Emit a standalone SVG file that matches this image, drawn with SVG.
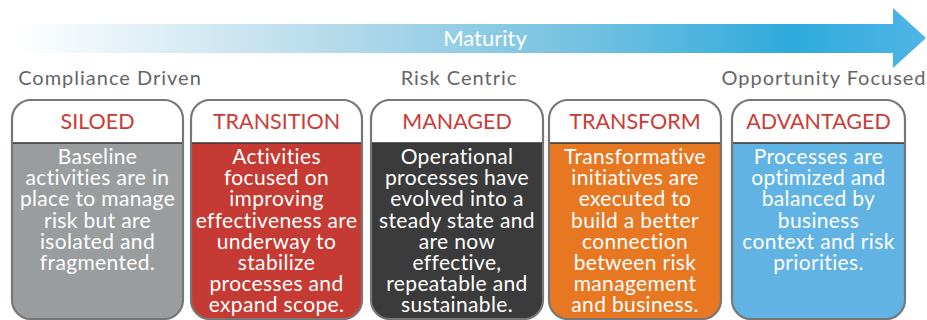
<svg xmlns="http://www.w3.org/2000/svg" width="927" height="320" viewBox="0 0 927 320">
<defs>
<linearGradient id="arrowGrad" x1="15" y1="0" x2="927" y2="0" gradientUnits="userSpaceOnUse">
<stop offset="0" stop-color="#ffffff"/>
<stop offset="0.35" stop-color="#b5daea"/>
<stop offset="0.65" stop-color="#6cbfe0"/>
<stop offset="0.85" stop-color="#2eaadc"/>
<stop offset="1" stop-color="#4fb5e6"/>
</linearGradient>
<style>
.stage{font-family:Lato,"Open Sans","Liberation Sans",sans-serif;font-size:20px;letter-spacing:1px;fill:#666666;text-anchor:middle}
.head{font-family:Lato,"Open Sans","Liberation Sans",sans-serif;font-size:21.5px;fill:#cc3b36;text-anchor:middle}
.body{font-family:Lato,"Open Sans","Liberation Sans",sans-serif;font-size:21px;letter-spacing:0.35px;fill:#ffffff;text-anchor:middle}
.frame{fill:none;stroke:#777777;stroke-width:2.2}
.hdr{fill:#ffffff}
.div{stroke:#333333;stroke-width:1.5}
</style>
</defs>
<g id="maturity-arrow">
<path d="M15,24 H893 V8 L926,38 L893,68 V53 H15 Z" fill="url(#arrowGrad)"/>
<text x="485" y="46" font-family="Lato,'Open Sans','Liberation Sans',sans-serif" font-size="22" fill="#ffffff" text-anchor="middle">Maturity</text>
</g>
<g id="stage-labels">
<text class="stage" x="110" y="85">Compliance Driven</text>
<text class="stage" x="459" y="85">Risk Centric</text>
<text class="stage" x="824" y="85">Opportunity Focused</text>
</g>
<g id="connectors"></g>
<g id="siloed">
<rect x="12" y="100" width="171" height="219" rx="19" fill="#9a9d9e"/>
<path class="hdr" d="M12,143 V119 A19,19 0 0 1 31,100 H164 A19,19 0 0 1 183,119 V143 Z"/>
<line class="div" x1="12" y1="143" x2="183" y2="143"/>
<rect class="frame" x="12" y="100" width="171" height="219" rx="19"/>
<text class="head" x="97.5" y="129">SILOED</text>
<text class="body" x="97.5" y="164">Baseline</text>
<text class="body" x="97.5" y="185.2">activities are in</text>
<text class="body" x="97.5" y="206.4">place to manage</text>
<text class="body" x="97.5" y="227.6">risk but are</text>
<text class="body" x="97.5" y="248.8">isolated and</text>
<text class="body" x="97.5" y="270">fragmented.</text>
</g>
<g id="transition">
<rect x="191" y="100" width="171" height="219" rx="19" fill="#c53a32"/>
<path class="hdr" d="M191,143 V119 A19,19 0 0 1 210,100 H343 A19,19 0 0 1 362,119 V143 Z"/>
<line class="div" x1="191" y1="143" x2="362" y2="143"/>
<rect class="frame" x="191" y="100" width="171" height="219" rx="19"/>
<text class="head" x="276.5" y="129">TRANSITION</text>
<text class="body" x="276.5" y="164">Activities</text>
<text class="body" x="276.5" y="185.2">focused on</text>
<text class="body" x="276.5" y="206.4">improving</text>
<text class="body" x="276.5" y="227.6">effectiveness are</text>
<text class="body" x="276.5" y="248.8">underway to</text>
<text class="body" x="276.5" y="270">stabilize</text>
<text class="body" x="276.5" y="291.2">processes and</text>
<text class="body" x="276.5" y="312.4">expand scope.</text>
</g>
<g id="managed">
<rect x="371" y="100" width="172" height="219" rx="19" fill="#3b3b3b"/>
<path class="hdr" d="M371,143 V119 A19,19 0 0 1 390,100 H524 A19,19 0 0 1 543,119 V143 Z"/>
<line class="div" x1="371" y1="143" x2="543" y2="143"/>
<rect class="frame" x="371" y="100" width="172" height="219" rx="19"/>
<text class="head" x="457" y="129">MANAGED</text>
<text class="body" x="457" y="164">Operational</text>
<text class="body" x="457" y="185.2">processes have</text>
<text class="body" x="457" y="206.4">evolved into a</text>
<text class="body" x="457" y="227.6">steady state and</text>
<text class="body" x="457" y="248.8">are now</text>
<text class="body" x="457" y="270">effective,</text>
<text class="body" x="457" y="291.2">repeatable and</text>
<text class="body" x="457" y="312.4">sustainable.</text>
</g>
<g id="transform">
<rect x="549" y="100" width="172" height="219" rx="19" fill="#e87722"/>
<path class="hdr" d="M549,143 V119 A19,19 0 0 1 568,100 H702 A19,19 0 0 1 721,119 V143 Z"/>
<line class="div" x1="549" y1="143" x2="721" y2="143"/>
<rect class="frame" x="549" y="100" width="172" height="219" rx="19"/>
<text class="head" x="635" y="129">TRANSFORM</text>
<text class="body" x="635" y="164">Transformative</text>
<text class="body" x="635" y="185.2">initiatives are</text>
<text class="body" x="635" y="206.4">executed to</text>
<text class="body" x="635" y="227.6">build a better</text>
<text class="body" x="635" y="248.8">connection</text>
<text class="body" x="635" y="270">between risk</text>
<text class="body" x="635" y="291.2">management</text>
<text class="body" x="635" y="312.4">and business.</text>
</g>
<g id="advantaged">
<rect x="732" y="100" width="173" height="219" rx="19" fill="#60b3e3"/>
<path class="hdr" d="M732,143 V119 A19,19 0 0 1 751,100 H886 A19,19 0 0 1 905,119 V143 Z"/>
<line class="div" x1="732" y1="143" x2="905" y2="143"/>
<rect class="frame" x="732" y="100" width="173" height="219" rx="19"/>
<text class="head" x="818.5" y="129">ADVANTAGED</text>
<text class="body" x="818.5" y="164">Processes are</text>
<text class="body" x="818.5" y="185.2">optimized and</text>
<text class="body" x="818.5" y="206.4">balanced by</text>
<text class="body" x="818.5" y="227.6">business</text>
<text class="body" x="818.5" y="248.8">context and risk</text>
<text class="body" x="818.5" y="270">priorities.</text>
</g>
</svg>
